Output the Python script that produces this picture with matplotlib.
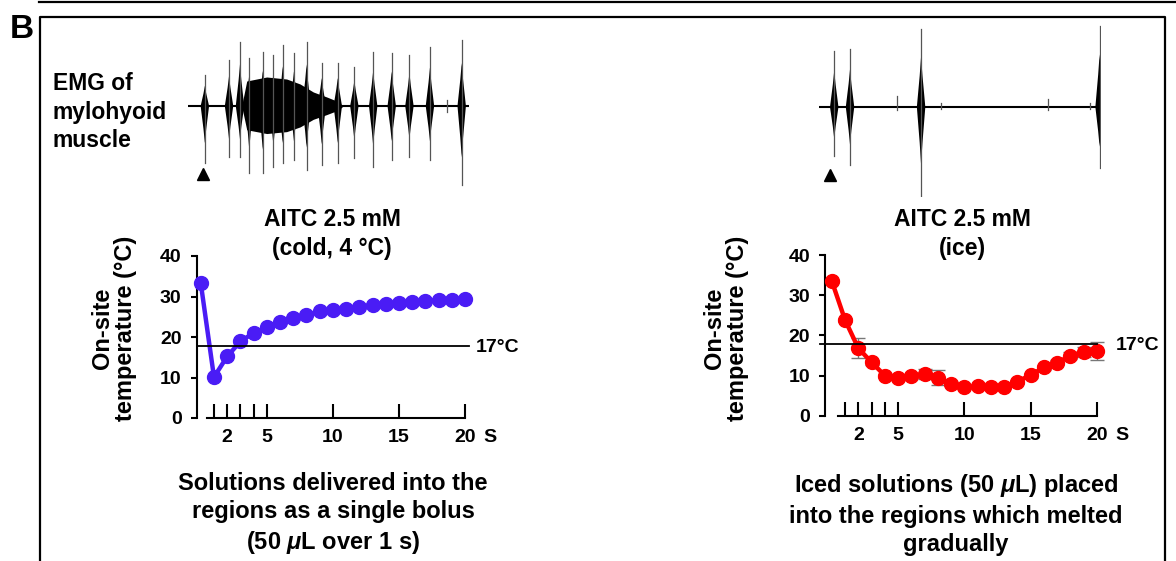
"""
Figure panel B: EMG traces of mylohyoid muscle and on-site temperature
after AITC delivery (cold bolus vs. ice)
"""
import matplotlib
matplotlib.use('Agg')
import matplotlib.pyplot as plt

plt.rcParams['font.family'] = ['Liberation Sans', 'DejaVu Sans']
plt.rcParams['font.weight'] = 'bold'
plt.rcParams['mathtext.fontset'] = 'custom'
plt.rcParams['mathtext.it'] = 'Liberation Sans:italic'
plt.rcParams['mathtext.rm'] = 'Liberation Sans'

W, H = 1176, 561

# ---- temperature data (time in s, temperature in deg C) ----
time_s = list(range(0, 21))
temp_cold = [33.3, 10.1, 15.2, 18.9, 21.0, 22.4, 23.7, 24.7, 25.5, 26.3, 26.7,
             27.0, 27.4, 27.9, 28.1, 28.5, 28.7, 28.9, 29.1, 29.2, 29.5]
temp_ice = [33.5, 23.8, 16.8, 13.3, 10.0, 9.5, 9.9, 10.3, 9.5, 8.0, 7.1,
            7.3, 7.1, 7.1, 8.5, 10.1, 12.0, 13.2, 14.9, 15.9, 16.1]
err_ice = [0.4, 0.5, 2.5, 0.6, 0.5, 0.5, 0.5, 1.2, 1.8, 0.5, 0.5,
           0.4, 0.4, 0.4, 0.5, 0.6, 0.6, 0.6, 0.9, 1.2, 2.2]
threshold = 17.8

xtick_pos = [1, 2, 3, 4, 5, 10, 15, 20]
xtick_lab = ['', '2', '', '', '5', '10', '15', '20']
ytick_pos = [0, 10, 20, 30, 40]

# ---- EMG bursts (position as fraction of trace, amplitude up/down in px) ----
emg_left_pos = [0.060, 0.146, 0.185, 0.218, 0.266, 0.304, 0.337, 0.377, 0.422,
                0.476, 0.533, 0.592, 0.659, 0.725, 0.788, 0.861, 0.921, 0.974]
emg_left_up = [31, 46, 64, 48, 54, 51, 61, 53, 64, 43, 43, 39, 54, 53, 51, 59, 6, 66]
emg_left_down = [57, 51, 51, 67, 67, 61, 57, 54, 64, 59, 57, 52, 61, 54, 51, 54, 6, 79]
# dense background activity of the left trace
dense_pos = [0.191, 0.209, 0.280, 0.351, 0.399, 0.446, 0.494, 0.529, 0.553]
dense_amp = [0, 25, 29, 27, 22, 14, 9, 5, 0]

emg_right_pos = [0.054, 0.110, 0.276, 0.362, 0.433, 0.813, 0.962, 0.995]
emg_right_up = [56, 58, 11, 78, 4, 8, 4, 81]
emg_right_down = [49, 58, 3, 89, 2, 3, 2, 61]

stim_left = 0.053
stim_right = 0.039


def px_axes(fig, x0, y0, x1, y1):
    """Add axes given a pixel box (top-left origin)"""
    return fig.add_axes([x0 / W, 1 - y1 / H, (x1 - x0) / W, (y1 - y0) / H])


def fig_text(fig, x, y, s, **kw):
    kw.setdefault('ha', 'center')
    kw.setdefault('va', 'center')
    kw.setdefault('fontweight', 'bold')
    fig.text(x / W, 1 - y / H, s, **kw)


def draw_emg(ax, pos, up, down, stim, dense=None):
    """Draw an EMG trace as a baseline with spindle-shaped bursts"""
    ax.plot([0, 1], [0, 0], color='black', lw=1.5)
    if dense is not None:
        dp, da = dense
        ax.fill_between(dp, [-a * 0.95 for a in da], da, color='black', lw=0)
    w = 0.015
    for c, u, d in zip(pos, up, down):
        ax.plot([c, c], [-d, u], color='#555555', lw=0.9)
        if u > 15:
            ax.fill([c - w, c - w / 3, c, c + w / 3, c + w, c + w / 3, c, c - w / 3],
                    [0, 0.4 * u, 0.65 * u, 0.4 * u, 0, -0.4 * d, -0.65 * d, -0.4 * d],
                    color='black', lw=0)
    ax.plot([stim], [-68], marker='^', color='black', ms=8, clip_on=False)
    ax.set_xlim(0, 1)
    ax.set_ylim(-90, 90)
    ax.axis('off')


def draw_temp(ax, x, y, color, xlim, line_span, label_x, err=None):
    """Temperature time course with the 17 deg C reference line"""
    if err is not None:
        ax.errorbar(x, y, yerr=err, fmt='none', ecolor='#777777',
                    elinewidth=1, capsize=5, capthick=1, zorder=2, clip_on=False)
    ax.plot(x, y, '-o', color=color, lw=3.2, ms=10, zorder=3, clip_on=False)
    ax.plot(line_span, [threshold, threshold], color='black', lw=1.3,
            zorder=4, clip_on=False)
    ax.set_xlim(*xlim)
    ax.set_ylim(0, 40)
    for s in ['top', 'right']:
        ax.spines[s].set_visible(False)
    ax.spines['left'].set_linewidth(1.5)
    ax.spines['bottom'].set_linewidth(1.5)
    ax.spines['bottom'].set_bounds(0.45, 20)
    ax.set_yticks(ytick_pos)
    ax.set_xticks(xtick_pos)
    ax.set_xticklabels(xtick_lab)
    ax.tick_params(axis='y', direction='out', length=4, width=1.5, pad=7,
                   labelsize=14)
    ax.tick_params(axis='x', direction='in', length=10, width=1.5, pad=8,
                   labelsize=14)
    for lab in ax.get_xticklabels() + ax.get_yticklabels():
        lab.set_fontweight('bold')
    ax.text(21.9, -4.9, 'S', ha='center', va='center', fontsize=14,
            fontweight='bold', clip_on=False)
    ax.text(label_x, threshold - 0.4, '17°C', ha='left', va='center',
            fontsize=14, fontweight='bold', clip_on=False)


def main():
    fig = plt.figure(figsize=(W / 100, H / 100), dpi=100)

    # frame lines
    frame = fig.add_axes([0, 0, 1, 1])
    frame.set_xlim(0, W)
    frame.set_ylim(H, 0)
    frame.axis('off')
    frame.plot([39, W], [1.5, 1.5], color='black', lw=1.6)
    frame.plot([39.5, 39.5, 1165, 1165], [H + 5, 17, 17, H + 5],
               color='black', lw=1.6)
    fig_text(fig, 21.5, 29, 'B', fontsize=24)

    fig_text(fig, 53, 112, 'EMG of\nmylohyoid\nmuscle', ha='left',
             fontsize=16.5, linespacing=1.3)

    # EMG traces
    ax_e1 = px_axes(fig, 188, 16, 469, 196)
    draw_emg(ax_e1, emg_left_pos, emg_left_up, emg_left_down, stim_left,
             dense=(dense_pos, dense_amp))
    ax_e2 = px_axes(fig, 819, 17, 1101, 197)
    draw_emg(ax_e2, emg_right_pos, emg_right_up, emg_right_down, stim_right)

    # titles
    fig_text(fig, 332, 234, 'AITC 2.5 mM\n(cold, 4 °C)', fontsize=16.5,
             linespacing=1.3)
    fig_text(fig, 962, 234, 'AITC 2.5 mM\n(ice)', fontsize=16.5,
             linespacing=1.3)

    # temperature panels
    ax1 = px_axes(fig, 196.8, 256, 478.2, 418)
    draw_temp(ax1, time_s, temp_cold, '#4A1CF5', (-0.3, 21), (-0.3, 20.3), 20.85)
    ax2 = px_axes(fig, 825.2, 255, 1110, 415.7)
    draw_temp(ax2, time_s, temp_ice, '#FF0000', (-0.5, 21), (-0.9, 20), 21.4,
              err=err_ice)

    for xc in (114, 726):
        fig_text(fig, xc, 328, 'On-site\ntemperature (°C)', rotation=90,
                 fontsize=17, linespacing=1.05)

    fig_text(fig, 333, 514, 'Solutions delivered into the\n'
             'regions as a single bolus\n(50 $\\mu$L over 1 s)',
             fontsize=17, linespacing=1.3)
    fig_text(fig, 956, 514, 'Iced solutions (50 $\\mu$L) placed\n'
             'into the regions which melted\ngradually',
             fontsize=17, linespacing=1.3)

    fig.savefig('out.png', dpi=100)
    plt.close(fig)


if __name__ == '__main__':
    main()
